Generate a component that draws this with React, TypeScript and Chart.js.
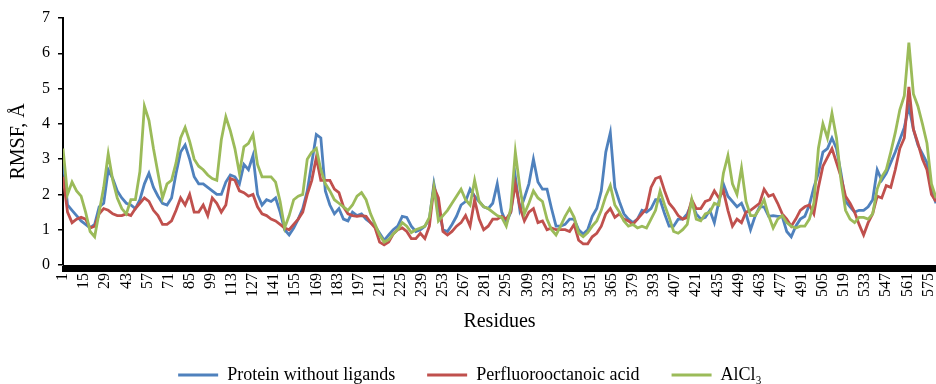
import React, { useEffect, useRef } from 'react';
import { Chart, registerables } from 'chart.js';

Chart.register(...registerables);

// Sampled residue positions (every 3rd residue)
const residues: number[] = Array.from({ length: 194 }, (_, i) => 1 + 3 * i);

const seriesNames = ['Protein without ligands', 'Perfluorooctanoic acid', 'AlCl\u2083'];

const proteinWithoutLigands: number[] = [
  3.0, 1.7, 1.55, 1.4, 1.25, 1.15, 1.05, 1.15, 1.65, 1.75, 2.7, 2.45, 2.1, 1.9, 1.75, 1.7, 1.6, 1.85, 2.3, 2.6, 2.2, 1.95, 1.75, 1.7, 1.9, 2.6, 3.2, 3.4,
  3.0, 2.5, 2.3, 2.3, 2.2, 2.1, 2.0, 2.0, 2.35, 2.55, 2.5, 2.3, 2.85, 2.7, 3.1, 2.0, 1.7, 1.85, 1.8, 1.9, 1.5, 1.0, 0.85, 1.05, 1.3, 1.6, 2.1,
  2.9, 3.7, 3.6, 2.1, 1.7, 1.45, 1.6, 1.3, 1.25, 1.5, 1.4, 1.45, 1.3, 1.2, 1.1, 0.9, 0.7, 0.85, 1.0, 1.1, 1.38, 1.35, 1.1, 0.95, 1.0, 1.1, 1.3, 2.3, 1.65,
  1.0, 0.95, 1.15, 1.38, 1.7, 1.8, 2.15, 1.95, 1.8, 1.65, 1.6, 1.75, 2.3, 1.5, 1.2, 1.5, 2.5, 1.55, 1.9, 2.3, 3.0, 2.35, 2.15, 2.15, 1.6, 1.1, 1.1,
  1.15, 1.3, 1.3, 1.0, 0.88, 1.0, 1.38, 1.6, 2.1, 3.2, 3.75, 2.2, 1.8, 1.45, 1.3, 1.2, 1.3, 1.55, 1.5, 1.6, 1.85, 1.85, 1.45, 1.1, 1.1, 1.3, 1.3, 1.45,
  1.75, 1.45, 1.3, 1.35, 1.55, 1.2, 1.8, 2.3, 1.95, 1.8, 1.65, 1.75, 1.45, 1.0, 1.38, 1.65, 1.65, 1.38, 1.4, 1.38, 1.38, 0.95, 0.8, 1.1, 1.3, 1.38, 1.7, 2.2,
  2.6, 3.2, 3.3, 3.6, 3.3, 2.6, 1.8, 1.65, 1.5, 1.55, 1.55, 1.65, 1.85, 2.7, 2.4, 2.6, 2.9, 3.2, 3.55, 3.9, 4.5, 3.85, 3.4, 3.15, 2.9, 2.1, 1.75,
];

const perfluorooctanoicAcid: number[] = [
  2.5, 1.5, 1.2, 1.3, 1.35, 1.3, 1.05, 1.1, 1.45, 1.6, 1.55, 1.45, 1.4, 1.4, 1.45, 1.4, 1.6, 1.75, 1.9, 1.8, 1.55, 1.4, 1.15, 1.15, 1.25, 1.55, 1.9, 1.7,
  2.0, 1.5, 1.5, 1.7, 1.4, 1.9, 1.75, 1.5, 1.7, 2.45, 2.4, 2.1, 2.05, 1.95, 2.0, 1.65, 1.45, 1.4, 1.3, 1.25, 1.15, 1.05, 1.0, 1.15, 1.3, 1.5, 2.0,
  2.4, 3.05, 2.4, 2.4, 2.4, 2.15, 2.05, 1.65, 1.45, 1.4, 1.38, 1.4, 1.38, 1.2, 1.05, 0.65, 0.57, 0.65, 0.88, 1.0, 1.05, 0.95, 0.75, 0.75, 0.9, 0.75, 1.1, 2.2, 1.9,
  0.95, 0.85, 0.95, 1.1, 1.2, 1.4, 1.1, 1.85, 1.3, 1.0, 1.1, 1.3, 1.3, 1.38, 1.3, 1.5, 2.3, 1.65, 1.25, 1.5, 1.6, 1.2, 1.25, 1.0, 1.05, 1.0, 1.0,
  1.0, 0.95, 1.15, 0.7, 0.6, 0.6, 0.8, 0.9, 1.1, 1.45, 1.6, 1.35, 1.45, 1.3, 1.25, 1.15, 1.3, 1.45, 1.6, 2.2, 2.45, 2.5, 2.1, 1.75, 1.6, 1.4, 1.3, 1.35,
  1.85, 1.6, 1.6, 1.8, 1.85, 2.1, 1.9, 2.1, 1.55, 1.1, 1.3, 1.2, 1.5, 1.55, 1.65, 1.75, 2.15, 1.95, 2.0, 1.75, 1.45, 1.3, 1.1, 1.3, 1.55, 1.65, 1.7, 1.45,
  2.2, 2.8, 3.05, 3.3, 2.9, 2.5, 1.95, 1.75, 1.5, 1.15, 0.85, 1.2, 1.45, 1.95, 1.9, 2.25, 2.2, 2.7, 3.3, 3.6, 5.05, 3.85, 3.45, 3.0, 2.7, 2.0, 1.8,
];

const alCl3: number[] = [
  3.3, 2.0, 2.35, 2.1, 1.95, 1.5, 0.95, 0.8, 1.5, 2.2, 3.15, 2.4, 1.9, 1.6, 1.45, 1.85, 1.85, 2.65, 4.5, 4.1, 3.3, 2.6, 1.9, 2.3, 2.4, 2.9, 3.6, 3.9,
  3.5, 3.0, 2.8, 2.7, 2.55, 2.45, 2.4, 3.55, 4.2, 3.8, 3.3, 2.6, 3.35, 3.45, 3.7, 2.85, 2.5, 2.5, 2.5, 2.35, 1.8, 1.05, 1.4, 1.85, 1.95, 2.0, 3.0,
  3.2, 3.3, 2.7, 2.3, 2.1, 1.85, 1.75, 1.65, 1.55, 1.7, 1.95, 2.05, 1.85, 1.45, 1.15, 0.85, 0.65, 0.72, 0.88, 1.0, 1.2, 1.1, 0.92, 1.0, 1.05, 1.1, 1.35, 2.2, 1.25,
  1.4, 1.55, 1.75, 1.95, 2.15, 1.85, 1.7, 2.4, 1.8, 1.65, 1.6, 1.5, 1.4, 1.35, 1.1, 1.6, 3.2, 2.2, 1.45, 1.75, 2.1, 1.9, 1.8, 1.3, 1.0, 0.85, 1.1,
  1.38, 1.6, 1.35, 0.9, 0.8, 0.92, 1.1, 1.25, 1.55, 1.95, 2.25, 1.7, 1.5, 1.25, 1.1, 1.15, 1.05, 1.1, 1.05, 1.3, 1.55, 2.1, 1.7, 1.35, 0.95, 0.9, 1.0, 1.15,
  1.85, 1.3, 1.25, 1.45, 1.5, 1.75, 1.7, 2.6, 3.1, 2.3, 2.0, 2.75, 1.8, 1.4, 1.4, 1.6, 1.85, 1.4, 1.05, 1.3, 1.4, 1.2, 1.1, 1.05, 1.1, 1.1, 1.3, 1.75,
  3.3, 4.0, 3.6, 4.3, 3.6, 2.4, 1.55, 1.3, 1.2, 1.35, 1.35, 1.3, 1.45, 2.15, 2.5, 2.7, 3.2, 3.75, 4.4, 4.8, 6.3, 4.85, 4.5, 4.0, 3.45, 2.3, 1.9,
];

const seriesValues = [proteinWithoutLigands, perfluorooctanoicAcid, alCl3];
const seriesColors = ['#4F81BD', '#C0504D', '#9BBB59'];
const residueMin = 1;
const residueMax = 580;
const residueLabelStep = 14;
const rmsfMin = 0;
const rmsfMax = 7;

const FONT = "'Liberation Serif', 'Times New Roman', serif";

const legendFitPlugin = {
  id: 'legendFit',
  beforeInit(chart: any) {
    const legend = chart.legend;
    if (!legend) return;
    const orig = legend.fit;
    legend.fit = function () {
      orig.call(this);
      this.height -= 10;
    };
  },
};

export default function App() {
  const ref = useRef<HTMLCanvasElement>(null);

  useEffect(() => {
    const canvas = ref.current;
    if (!canvas) return;
    const datasets = seriesValues.map((vals, s) => ({
      label: seriesNames[s],
      data: residues.map((r, i) => ({ x: r, y: vals[i] })),
      borderColor: seriesColors[s],
      backgroundColor: seriesColors[s],
      borderWidth: 2.8,
      pointRadius: 0,
      tension: 0,
      order: 2 - s,
    }));
    const chart = new Chart(canvas, {
      type: 'line',
      data: { datasets },
      plugins: [legendFitPlugin],
      options: {
        animation: false,
        responsive: false,
        maintainAspectRatio: false,
        layout: { padding: { left: 4, right: 0, top: 18, bottom: 0 } },
        scales: {
          x: {
            type: 'linear',
            min: residueMin,
            max: residueMax,
            afterFit: (scale: any) => {
              scale.height = 69;
              scale.paddingRight = 0;
            },
            ticks: {
              stepSize: 1,
              autoSkip: false,
              maxTicksLimit: 1000,
              minRotation: 90,
              maxRotation: 90,
              color: '#000',
              font: { family: FONT, size: 16 },
              padding: 1,
              callback: (v: any) => ((Number(v) - 1) % residueLabelStep === 0 ? String(v) : ''),
            },
            grid: { drawOnChartArea: false, drawTicks: true, tickLength: 7, color: '#000', lineWidth: 2 },
            border: { display: true, color: '#000', width: 1 },
            title: { display: true, text: 'Residues', color: '#000', font: { family: FONT, size: 20 }, padding: { top: 2, bottom: 0 } },
          },
          y: {
            min: rmsfMin,
            max: rmsfMax,
            ticks: { stepSize: 1, color: '#000', font: { family: FONT, size: 16 }, padding: 8 },
            grid: { drawOnChartArea: false, drawTicks: true, tickLength: 5, color: '#000', lineWidth: 1.5 },
            border: { display: true, color: '#000', width: 2 },
            title: { display: true, text: 'RMSF, \u00C5', color: '#000', font: { family: FONT, size: 20 }, padding: { top: 3, bottom: 3 } },
          },
        },
        plugins: {
          tooltip: { enabled: false },
          legend: {
            position: 'bottom',
            labels: {
              boxWidth: 40,
              boxHeight: 3,
              padding: 32,
              color: '#000',
              font: { family: FONT, size: 18 },
              generateLabels: (c: any) =>
                c.data.datasets.map((ds: any, i: number) => ({
                  text: ds.label,
                  fillStyle: ds.borderColor,
                  strokeStyle: ds.borderColor,
                  lineWidth: 0,
                  hidden: false,
                  datasetIndex: i,
                  fontColor: '#000',
                })),
            },
          },
        },
      },
    } as any);
    return () => chart.destroy();
  }, []);

  return (
    <div style={{ position: 'fixed', left: 0, top: 0, width: 936, height: 384, background: '#fff' }}>
      <canvas ref={ref} width={936} height={384} style={{ display: 'block', width: 936, height: 384 }} />
    </div>
  );
}
